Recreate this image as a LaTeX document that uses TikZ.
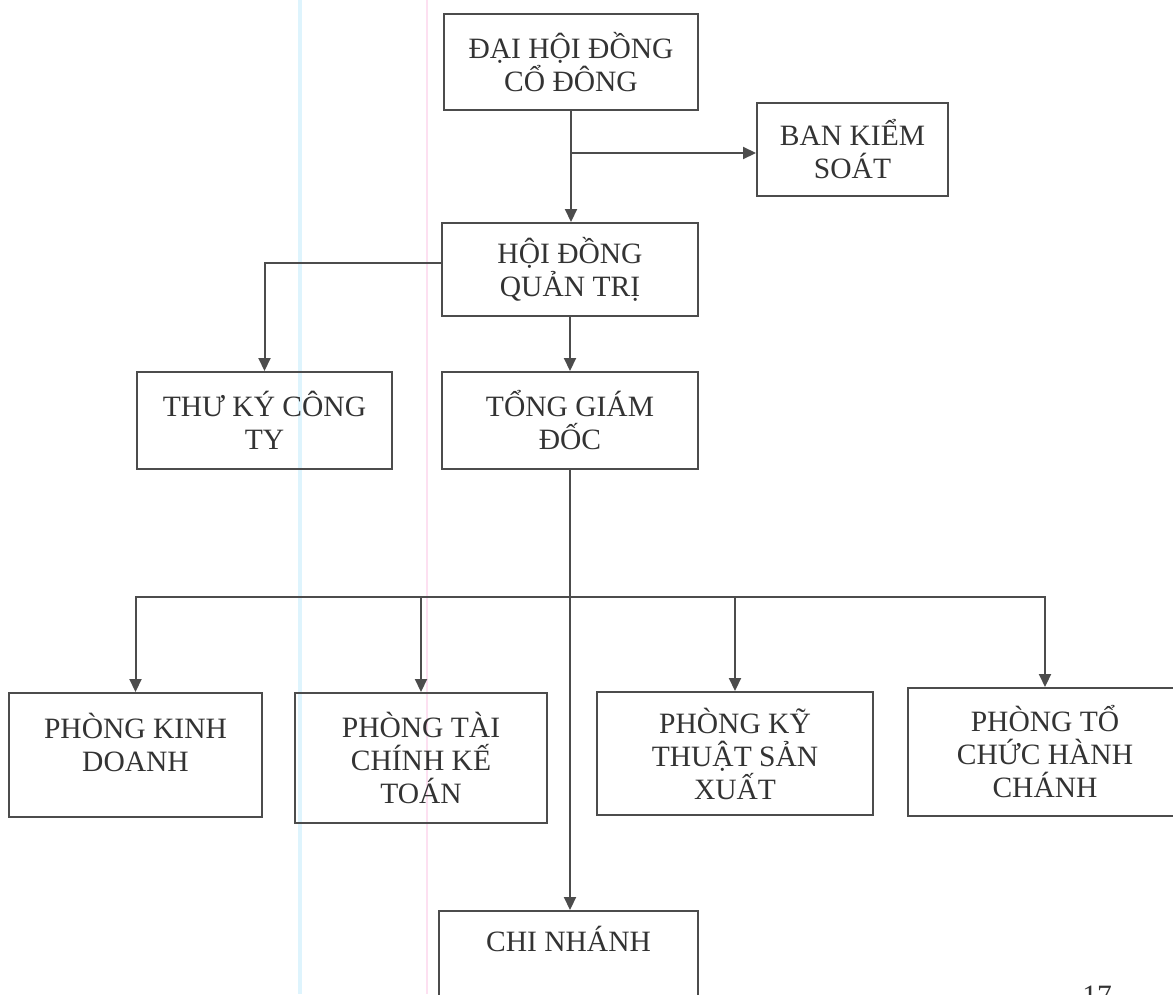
\documentclass[tikz,border=0pt]{standalone}
\usepackage{fontspec}
\setmainfont{Liberation Serif}
\usetikzlibrary{arrows.meta}

\begin{document}
\begin{tikzpicture}[x=0.02cm, y=-0.02cm,
  every node/.style={font=\fontsize{16.8pt}{18.8pt}\selectfont, text=black!80},
  unit/.style={draw=black!70, line width=0.04cm, align=center, inner sep=0pt},
  feed/.style={draw=black!70, line width=0.04cm, -{Triangle[length=0.26cm, width=0.24cm]}}]
  \useasboundingbox (0,0) rectangle (1173,994);

  % guide lines left on the scan
  \draw[cyan!13, line width=0.07cm] (300,0) -- (300,994);
  \draw[magenta!12, line width=0.04cm] (427,0) -- (427,994);

  \node[unit, minimum width=5.08cm, minimum height=1.92cm] (dhd) at (571,62) {ĐẠI HỘI ĐỒNG\\CỔ ĐÔNG};
  \node[unit, minimum width=3.82cm, minimum height=1.86cm] (bks) at (852.5,149.5) {BAN KIỂM\\SOÁT};
  \node[unit, minimum width=5.12cm, minimum height=1.86cm] (hdqt) at (570,269.5) {HỘI ĐỒNG\\QUẢN TRỊ};
  \node[unit, minimum width=5.10cm, minimum height=1.94cm] (tky) at (264.5,420.5) {THƯ KÝ CÔNG\\TY};
  \node[unit, minimum width=5.12cm, minimum height=1.94cm] (tgd) at (570,420.5) {TỔNG GIÁM\\ĐỐC};

  \node[unit, minimum width=5.06cm, minimum height=2.48cm, text depth=0.51cm] (pkd) at (135.5,755) {PHÒNG KINH\\DOANH};
  \node[unit, minimum width=5.04cm, minimum height=2.60cm] (ptc) at (421,758) {PHÒNG TÀI\\CHÍNH KẾ\\TOÁN};
  \node[unit, minimum width=5.52cm, minimum height=2.46cm] (pkt) at (735,753.5) {PHÒNG KỸ\\THUẬT SẢN\\XUẤT};
  \node[unit, minimum width=5.48cm, minimum height=2.56cm] (ptchc) at (1045,752) {PHÒNG TỔ\\CHỨC HÀNH\\CHÁNH};
  \node[unit, minimum width=5.18cm, minimum height=2.08cm, text depth=0.98cm] (cn) at (568.5,963) {CHI NHÁNH};

  \node[anchor=base] (pg) at (1097,1005) {17};

  \coordinate (split) at (dhd.south |- 0,153);
  \coordinate (bus) at (tgd.south |- 0,597);

  \draw[feed] (dhd.south) -- (dhd.south |- hdqt.north);
  \draw[feed] (split) -- (split -| bks.west);
  \draw[feed] ([yshift=0.13cm]hdqt.west) -| (tky.north);
  \draw[feed] (hdqt.south) -- (tgd.north);
  \draw[feed] (tgd.south) -- (tgd.south |- cn.north);
  \foreach \dept in {pkd,ptc,pkt,ptchc}
    \draw[feed] (bus) -| (\dept.north);
\end{tikzpicture}
\end{document}
